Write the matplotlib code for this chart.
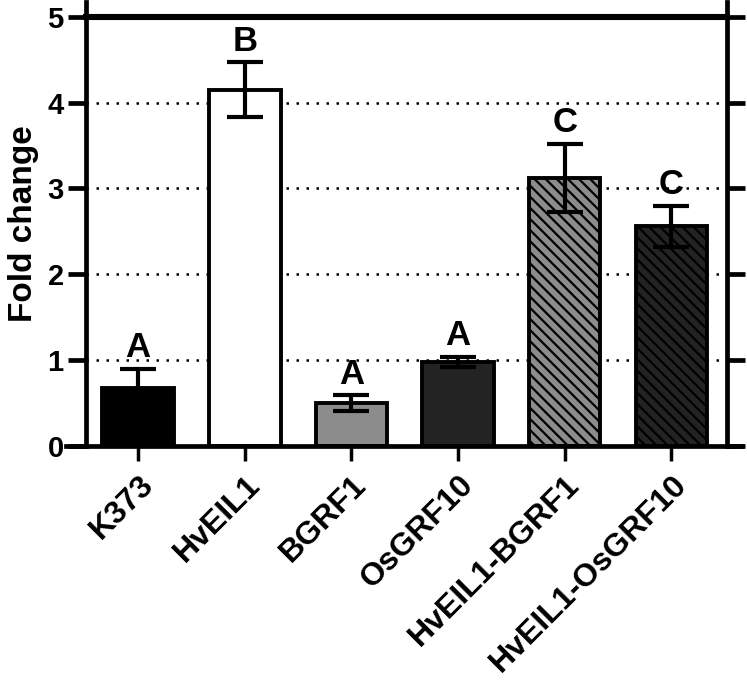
import matplotlib
matplotlib.use("Agg")
import matplotlib.pyplot as plt
import numpy as np

plt.rcParams['font.family'] = ['Liberation Sans', 'DejaVu Sans']
plt.rcParams['font.weight'] = 'bold'
plt.rcParams['hatch.linewidth'] = 1.6

categories = ['K373', 'HvEIL1', 'BGRF1', 'OsGRF10', 'HvEIL1-BGRF1', 'HvEIL1-OsGRF10']
means = [0.67, 4.15, 0.50, 0.98, 3.12, 2.56]
errors = [0.23, 0.32, 0.09, 0.06, 0.40, 0.24]
letters = ['A', 'B', 'A', 'A', 'C', 'C']
colors = ['#000000', '#ffffff', '#8c8c8c', '#232323', '#8c8c8c', '#232323']
hatches = [None, None, None, None, '\\\\\\', '\\\\\\']

fig = plt.figure(figsize=(7.47, 6.82), dpi=100)
ax = fig.add_axes([0.115, 0.346, 0.858, 0.651])

x = np.arange(len(categories))
LW = 3.4

for i in range(len(x)):
    ax.bar(x[i], means[i], width=0.67, color=colors[i], edgecolor='black',
           linewidth=2.8, hatch=hatches[i], zorder=2)
ax.errorbar(x, means, yerr=errors, fmt='none', ecolor='black',
            elinewidth=3, capsize=13, capthick=3, zorder=3)
for i in range(len(x)):
    ax.text(x[i], means[i] + errors[i] + 0.05, letters[i], ha='center', va='bottom',
            fontsize=25, fontweight='bold', zorder=4)

for y in [1, 2, 3, 4]:
    ax.axhline(y, color='black', linestyle=(0, (1, 3)), linewidth=1.8, zorder=0)
ax.axhline(5, color='black', linewidth=LW + 1, zorder=1, clip_on=False)

ax.set_xlim(-0.49, 5.52)
ax.set_ylim(0, 5.17)
ax.set_yticks([0, 1, 2, 3, 4, 5])
ax.set_xticks(x)
ax.set_xticklabels(categories, rotation=45, ha='right', rotation_mode='anchor',
                   fontsize=23, fontweight='bold')
ax.set_ylabel('Fold change', fontsize=24, fontweight='bold', labelpad=6)

for s in ['left', 'right', 'bottom']:
    ax.spines[s].set_linewidth(LW)
ax.spines['top'].set_visible(False)
ax.spines['bottom'].set_bounds(-0.68, 5.65)
ax.spines['bottom'].set_zorder(5)

ax.tick_params(axis='y', direction='out', length=13, width=LW, labelsize=21,
               right=True, pad=3)
ax.tick_params(axis='x', direction='out', length=11, width=2.5, pad=6)
for lab in ax.get_yticklabels():
    lab.set_fontweight('bold')

fig.savefig('out.png', dpi=100)
